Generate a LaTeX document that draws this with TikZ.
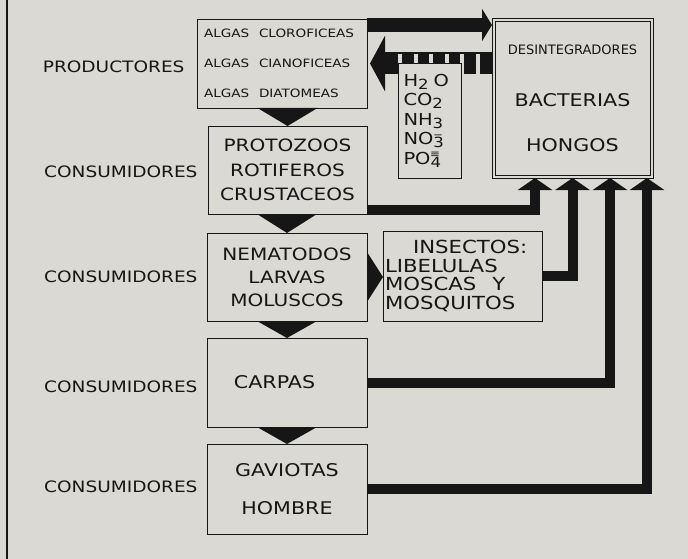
\documentclass[tikz,border=0pt]{standalone}
\usepackage{fontspec}
\setmainfont[FakeStretch=1.18]{DejaVu Sans}
\newfontfamily\plainsans{DejaVu Sans}
\usepackage{tikz}
\usetikzlibrary{arrows.meta,positioning,calc}
\definecolor{paper}{RGB}{219,217,211}
\definecolor{ink}{RGB}{22,22,22}

\newcommand{\lowsub}[1]{\raisebox{-3pt}{\fontsize{14}{14}\selectfont #1}}
\newcommand{\ionsub}[2]{\lowsub{#1}\llap{\raisebox{6.5pt}{\fontsize{10}{10}\selectfont #2}\hspace{1pt}}}

\begin{document}
\begin{tikzpicture}[x=1pt,y=-1pt,
	box/.style={draw=ink, line width=0.9pt, fill=paper, inner sep=2pt, outer sep=0pt, text=ink},
	lab/.style={anchor=east, text=ink, font=\fontsize{15.7}{18}\selectfont},
	flow/.style={draw=ink, line width=10pt, line join=miter, -{Triangle[width=34pt,length=12pt]}}]
	\fill[paper] (0,0) rectangle (688,559);
	\useasboundingbox (0,0) rectangle (688,559);
	\draw[ink, line width=1.2pt] (7,0) -- (7,559);

	% cajas
	\node[box, minimum width=170pt, minimum height=89pt, align=left, text width=156pt, inner xsep=7pt,
		font=\fontsize{11.5}{30}\selectfont] (prod) at (282,63.5)
		{\makebox[55pt][l]{ALGAS}CLOROFICEAS\\\makebox[55pt][l]{ALGAS}CIANOFICEAS\\\makebox[55pt][l]{ALGAS}DIATOMEAS};
	\node[box, minimum width=159pt, minimum height=88pt, align=center, font=\fontsize{17}{24.5}\selectfont]
		(proto) at (287.5,170) {PROTOZOOS\\ROTIFEROS\\CRUSTACEOS};
	\node[box, minimum width=160pt, minimum height=88pt, align=center, font=\fontsize{17}{23}\selectfont]
		(nema) at (287,277) {NEMATODOS\\LARVAS\\MOLUSCOS};
	\node[box, minimum width=159pt, minimum height=90pt, align=left, text width=155pt, font=\fontsize{18}{18.5}\selectfont]
		(insect) at (462.5,276) {\hspace*{28pt}INSECTOS:\\LIBELULAS\\MOSCAS\hspace{16pt}Y\\MOSQUITOS};
	\node[box, minimum width=160pt, minimum height=89pt, font=\fontsize{17.5}{21}\selectfont]
		(carpas) at (287,382.5) {CARPAS\hspace*{25pt}};
	\node[box, minimum width=160pt, minimum height=90pt, align=center, font=\fontsize{17.5}{38}\selectfont]
		(gav) at (287,489) {GAVIOTAS\\HOMBRE};
	\node[box, minimum width=161pt, minimum height=160pt, align=center,
		font=\fontsize{17.5}{20}\selectfont] (deco) at (572.5,98)
		{{\plainsans\fontsize{13}{20}\selectfont DESINTEGRADORES}\\[32pt]BACTERIAS\\[25pt]HONGOS};
	\draw[ink, line width=0.9pt] ($(deco.north west)+(3,3)$) rectangle ($(deco.south east)+(-3,-3)$);

	% niveles
	\node[lab] (prodlab) at (188,67) {PRODUCTORES};
	\node[lab] (conlab1) at (201,172) {CONSUMIDORES};
	\node[lab] (conlab2) at (201,277) {CONSUMIDORES};
	\node[lab] (conlab3) at (201,387) {CONSUMIDORES};
	\node[lab] (conlab4) at (201,487) {CONSUMIDORES};

	% flechas de arriba
	\draw[flow, line width=14pt, -{Triangle[width=32pt,length=10pt]}]
		([yshift=-6pt]prod.north east) -- ([yshift=-6pt]prod.north east -| deco.west);
	\draw[flow, line width=22pt, -{Triangle[width=55pt,length=15pt]}]
		(prod.east -| deco.west) -- ($(prod.east)+(3,0)$);
	\foreach \sx in {398,413.5,...,476}
		\fill[paper] (\sx,54.5) rectangle ++(4,20);

	\node[box, minimum width=63pt, minimum height=115pt, align=left, text width=52pt, inner xsep=5.5pt,
		font=\fontsize{16.5}{19.5}\selectfont] (chem) at (429.5,120.5)
		{H\lowsub{2}\hspace{5pt}O\\CO\lowsub{2}\\NH\lowsub{3}\\NO\ionsub{3}{−}\\PO\ionsub{4}{≡}};

	% cadena
	\foreach \a/\b in {prod/proto,proto/nema,nema/carpas,carpas/gav}
		\fill[ink] ($(\b.north |- \a.south)+(-30,0)$) -- ($(\b.north |- \a.south)+(30,0)$) -- (\b.north) -- cycle;
	\fill[ink] ($(nema.east)+(0,-25)$) -- ($(nema.east)+(0,25)$) -- (insect.west |- nema.east) -- cycle;

	% hacia los desintegradores
	\coordinate (in1) at ($(deco.south)+(-37.5,0)$);
	\coordinate (in2) at ($(deco.south)+(0,0)$);
	\coordinate (in3) at ($(deco.south)+(37.5,0)$);
	\coordinate (in4) at ($(deco.south)+(74.5,0)$);
	\draw[flow] ([yshift=4.5pt]proto.south east) -| (in1);
	\draw[flow] (insect.east) -| (in2);
	\draw[flow] (carpas.east) -| (in3);
	\draw[flow] (gav.east) -| (in4);
\end{tikzpicture}
\end{document}
